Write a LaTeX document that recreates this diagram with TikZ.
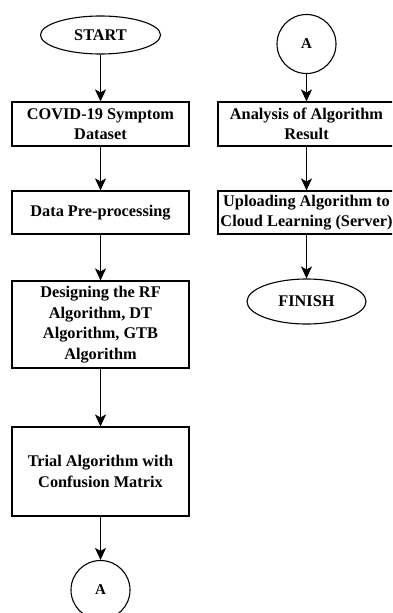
\documentclass[tikz,border=0pt]{standalone}
\usepackage{fontspec}
\setmainfont{Liberation Serif}
\usetikzlibrary{arrows.meta,shapes.geometric}
\begin{document}
\begin{tikzpicture}[x=1pt,y=-1pt,
  txt/.style={font=\bfseries\fontsize{16.3}{20.5}\selectfont},
  box/.style={txt, draw, line width=1.1pt, minimum width=177pt, align=center, inner sep=0pt},
  term/.style={txt, draw, ellipse, line width=1.1pt, inner sep=0pt},
  conn/.style={draw, circle, line width=1.1pt, minimum size=59pt, inner sep=0pt, font=\bfseries\fontsize{15}{18}\selectfont},
  arr/.style={-{Stealth[length=12pt,width=11pt,inset=3pt]}, line width=1.1pt}]
\useasboundingbox (0,0) rectangle (392,613);
\clip (0,0) rectangle (392,613);
% left column
\node[term, minimum width=120pt, minimum height=38pt] (start) at (100.5,35) {START};
\node[box, minimum height=44pt] (b1) at (100.5,124) {COVID-19 Symptom\\Dataset};
\node[box, minimum height=43pt] (b2) at (100.5,212.5) {Data Pre-processing};
\node[box, minimum height=87pt] (b3) at (100.5,324.5) {Designing the RF\\Algorithm, DT\\Algorithm, GTB\\Algorithm};
\node[box, minimum height=89pt] (b4) at (100.5,471.5) {Trial Algorithm with\\Confusion Matrix};
\node[conn] (a1) at (100.5,590) {A};
% right column
\node[conn] (a2) at (306.5,44) {A};
\node[box, minimum height=44pt] (b5) at (306.5,124) {Analysis of Algorithm\\Result};
\node[box, minimum height=43pt] (b6) at (306.5,212.5) {Uploading Algorithm to\\Cloud Learning (Server)};
\node[term, minimum width=119pt, minimum height=45pt] (fin) at (306.5,301.5) {FINISH};
% connectors
\draw[arr] (start) -- (b1);
\draw[arr] (b1) -- (b2);
\draw[arr] (b2) -- (b3);
\draw[arr] (b3) -- (b4);
\draw[arr] (b4) -- (a1);
\draw[arr] (a2) -- (b5);
\draw[arr] (b5) -- (b6);
\draw[arr] (b6) -- (fin);
\end{tikzpicture}
\end{document}
